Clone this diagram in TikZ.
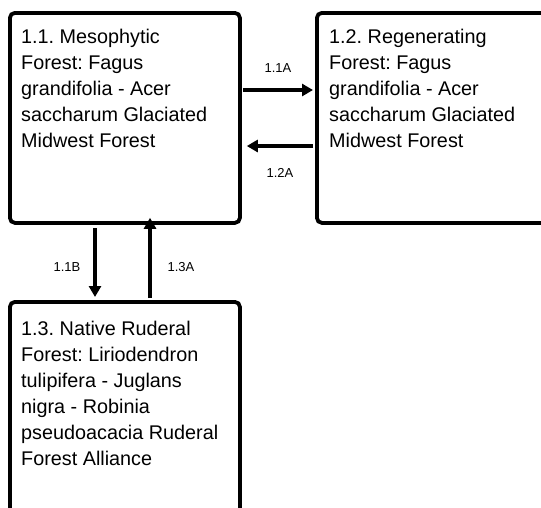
\documentclass[tikz,border=0pt]{standalone}
\usepackage{fontspec}
\setmainfont{Liberation Sans}
\usetikzlibrary{arrows.meta}
\frenchspacing
\begin{document}
\begin{tikzpicture}[x=1pt,y=-1pt,
  box/.style={draw=black, line width=3.8pt, rounded corners=5pt, fill=white, inner sep=0pt, anchor=north west},
  txt/.style={anchor=north west, align=left, inner sep=0pt, font=\frenchspacing\fontsize{19.8}{26}\selectfont},
  lbl/.style={font=\fontsize{13}{15}\selectfont, inner sep=0pt},
  arr/.style={line width=3.2pt, -{Triangle[width=12pt,length=11pt]}}]
\useasboundingbox (0,0) rectangle (541,507);
\clip (0,0) rectangle (541,507);
\node[box, minimum width=230pt, minimum height=210pt] (b1) at (8,11) {};
\node[box, minimum width=260pt, minimum height=210pt] (b2) at (315,11) {};
\node[box, minimum width=230pt, minimum height=260pt] (b3) at (8,300) {};
\node[txt] (t1) at (21,28.6) {1.1. Mesophytic\\Forest: Fagus\\grandifolia - Acer\\saccharum Glaciated\\Midwest Forest};
\node[txt] (t2) at (329,28.8) {1.2. Regenerating\\Forest: Fagus\\grandifolia - Acer\\saccharum Glaciated\\Midwest Forest};
\node[txt] (t3) at (21,320.6) {1.3. Native Ruderal\\Forest: Liriodendron\\tulipifera - Juglans\\nigra - Robinia\\pseudoacacia Ruderal\\Forest Alliance};
% horizontal arrows
\coordinate (a1s) at (243,90);
\coordinate (a2s) at (313,146);
\draw[arr] (a1s) -- ([xshift=-2pt]a1s -| b2.west);
\draw[arr] (a2s) -- ([xshift=5pt]a2s -| b1.east);
\node[lbl] (l1) at (278,68) {1.1A};
\node[lbl] (l2) at (280,173) {1.2A};
% vertical arrows
\coordinate (v1s) at (95,228);
\coordinate (v2s) at (150,298);
\draw[arr] (v1s) -- ([yshift=3pt]v1s |- b3.north);
\draw[arr] (v2s) -- ([yshift=7pt]v2s |- b1.south);
\node[lbl] (l3) at (67,267) {1.1B};
\node[lbl] (l4) at (181,267) {1.3A};
\end{tikzpicture}
\end{document}
